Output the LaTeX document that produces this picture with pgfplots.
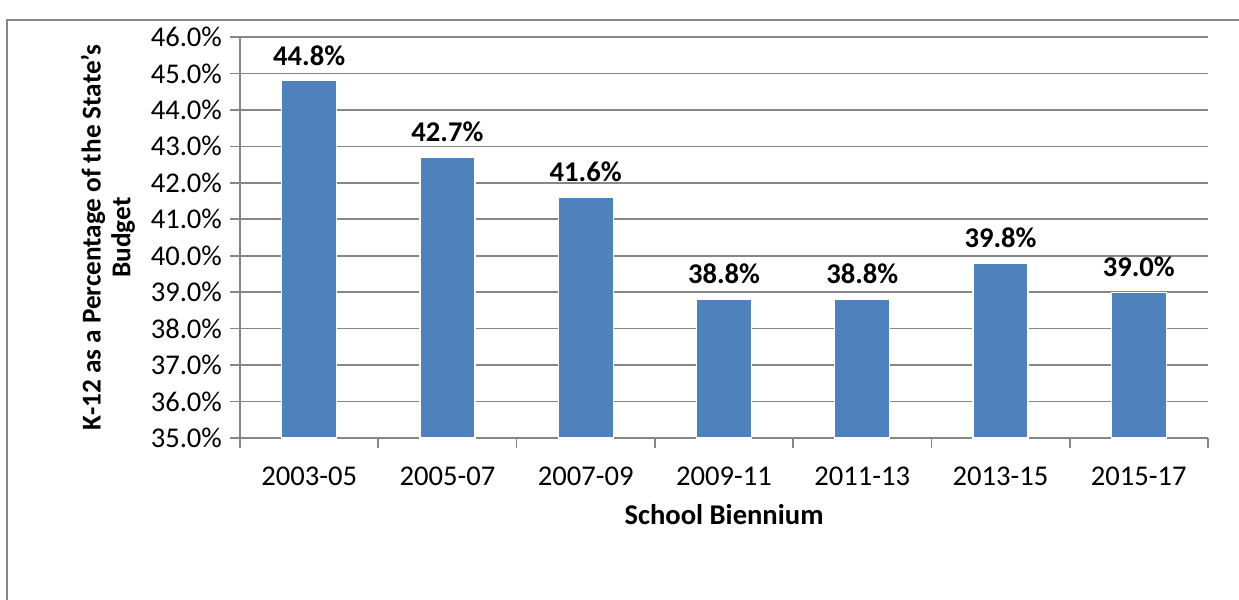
\documentclass[border=0pt]{standalone}
\usepackage{fontspec}
\setmainfont{Carlito}
\usepackage{pgfplots}
\pgfplotsset{compat=1.18}

\definecolor{barblue}{RGB}{79,129,189}
\definecolor{gridgray}{RGB}{134,134,134}

\begin{document}
\begin{tikzpicture}
% page = 1239x600 px at 0.5pt per px, axis origin at (240,438) px
\path[use as bounding box] (-120pt,-81pt) rectangle (499.5pt,219pt);
\draw[gridgray, line width=1.1pt] (-116.5pt,-81pt) -- (-116.5pt,209pt) -- (499.5pt,209pt);

\begin{axis}[
  at={(0,0)}, anchor=south west,
  scale only axis,
  width=484pt, height=200.5pt,
  font=\fontsize{14.3}{16}\selectfont,
  ybar, bar width=27.5pt,
  xmin=-0.5, xmax=6.5,
  ymin=35, ymax=46,
  enlargelimits=false,
  axis x line*=bottom, axis y line*=left,
  axis line style={gridgray, line width=0.8pt},
  xtick={0,...,6},
  xticklabels={2003-05,2005-07,2007-09,2009-11,2011-13,2013-15,2015-17},
  minor xtick={-0.5,0.5,...,6.5},
  major x tick style={draw=none},
  minor tick length=5pt,
  major tick length=5pt,
  tick align=outside,
  tick style={gridgray, line width=0.8pt},
  xticklabel style={yshift=-6pt},
  ytick={35,36,...,46},
  yticklabel={\pgfmathprintnumber[fixed,fixed zerofill,precision=1]{\tick}\%},
  /pgf/number format/assume math mode=true,
  yticklabel style={xshift=-0.5pt},
  ymajorgrids,
  grid style={gridgray, line width=0.8pt},
  xlabel={\textbf{School Biennium}},
  xlabel style={yshift=-2.5pt},
  ylabel={\fontsize{13.6}{12.5}\selectfont\textbf{\shortstack{K-12 as a Percentage of the State's\\Budget}}},
  ylabel style={yshift=1pt},
  nodes near coords={\textbf{\pgfmathprintnumber[fixed,fixed zerofill,precision=1]{\pgfplotspointmeta}\%}},
  nodes near coords style={yshift=4pt},
]
\addplot[fill=barblue, draw=white, line width=0.6pt] coordinates {
  (0,44.8) (1,42.7) (2,41.6) (3,38.8) (4,38.8) (5,39.8) (6,39.0)
};
\end{axis}
\end{tikzpicture}
\end{document}
